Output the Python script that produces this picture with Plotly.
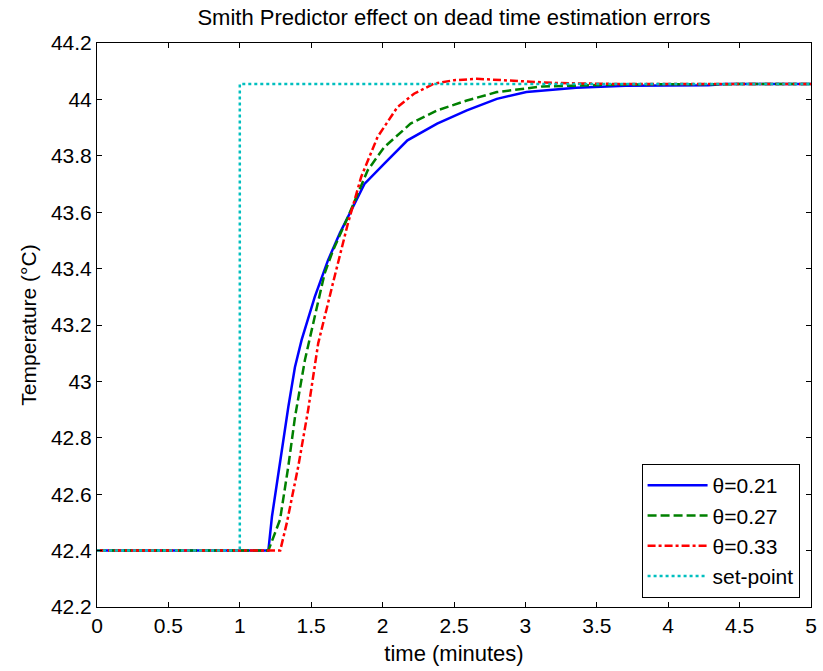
import plotly.graph_objects as go

# ---- data ----
t_021 = [0, 1.2, 1.225, 1.294, 1.34, 1.386, 1.433, 1.525, 1.618, 1.70, 1.78, 1.873,
         2.012, 2.174, 2.382, 2.59, 2.80, 3.007, 3.354, 3.7, 4.28, 4.4, 5]
y_021 = [42.40, 42.40, 42.52, 42.76, 42.91, 43.05, 43.147, 43.30, 43.43, 43.525, 43.607, 43.70,
         43.772, 43.855, 43.914, 43.961, 44.002, 44.026, 44.041, 44.048, 44.050, 44.055, 44.055]

t_027 = [0, 1.2, 1.282, 1.34, 1.387, 1.456, 1.525, 1.594, 1.653, 1.757, 1.896, 2.012,
         2.196, 2.382, 2.59, 2.80, 3.12, 3.7, 5]
y_027 = [42.40, 42.40, 42.51, 42.70, 42.875, 43.076, 43.23, 43.383, 43.465, 43.583, 43.749, 43.831,
         43.914, 43.961, 43.996, 44.026, 44.046, 44.053, 44.055]

t_033 = [0, 1.283, 1.33, 1.41, 1.479, 1.549, 1.653, 1.71, 1.757, 1.85, 1.965, 2.104,
         2.22, 2.36, 2.5, 2.66, 2.94, 3.215, 3.6, 5]
y_033 = [42.40, 42.40, 42.50, 42.70, 42.90, 43.135, 43.35, 43.465, 43.56, 43.725, 43.867, 43.973,
         44.02, 44.056, 44.068, 44.073, 44.065, 44.058, 44.055, 44.055]

t_sp = [0, 1, 1, 5]
y_sp = [42.40, 42.40, 44.055, 44.055]

names = ["θ=0.21", "θ=0.27", "θ=0.33", "set-point"]

FONT = "Liberation Sans, Arial, Helvetica, sans-serif"

fig = go.Figure()
fig.add_trace(go.Scatter(x=t_021, y=y_021, mode="lines", name=names[0],
                         line=dict(color="#0000FF", width=2.5)))
fig.add_trace(go.Scatter(x=t_027, y=y_027, mode="lines", name=names[1],
                         line=dict(color="#008000", width=2.5, dash="9px,4px")))
fig.add_trace(go.Scatter(x=t_033, y=y_033, mode="lines", name=names[2],
                         line=dict(color="#FF0000", width=2.5, dash="8px,3px,3px,3px")))
fig.add_trace(go.Scatter(x=t_sp, y=y_sp, mode="lines", name=names[3],
                         line=dict(color="#00BFBF", width=2.5, dash="3px,3px")))

axis_common = dict(showline=True, linecolor="black", linewidth=1, mirror="ticks",
                   ticks="inside", ticklen=5, tickcolor="black", showgrid=False,
                   zeroline=False, tickfont=dict(family=FONT, size=21, color="black"))

fig.update_layout(
    width=823, height=671,
    margin=dict(l=97, r=6, t=43, b=64),
    paper_bgcolor="white", plot_bgcolor="white",
    font=dict(family=FONT, color="black"),
    title=dict(text="Smith Predictor effect on dead time estimation errors",
               x=0.5, xref="paper", xanchor="center", y=0.985, yref="container",
               font=dict(family=FONT, size=22, color="black")),
    xaxis=dict(range=[0, 5], dtick=0.5, tick0=0,
               title=dict(text="time (minutes)", font=dict(family=FONT, size=22), standoff=9),
               **axis_common),
    yaxis=dict(range=[42.2, 44.2], dtick=0.2, tick0=42.2,
               title=dict(text="Temperature (°C)", font=dict(family=FONT, size=21), standoff=8),
               **axis_common),
    legend=dict(x=0.984, y=0.016, xanchor="right", yanchor="bottom",
                bordercolor="black", borderwidth=1, bgcolor="white",
                font=dict(family=FONT, size=21, color="black"),
                itemwidth=60),
    showlegend=True,
)

fig.write_html("out.html")
